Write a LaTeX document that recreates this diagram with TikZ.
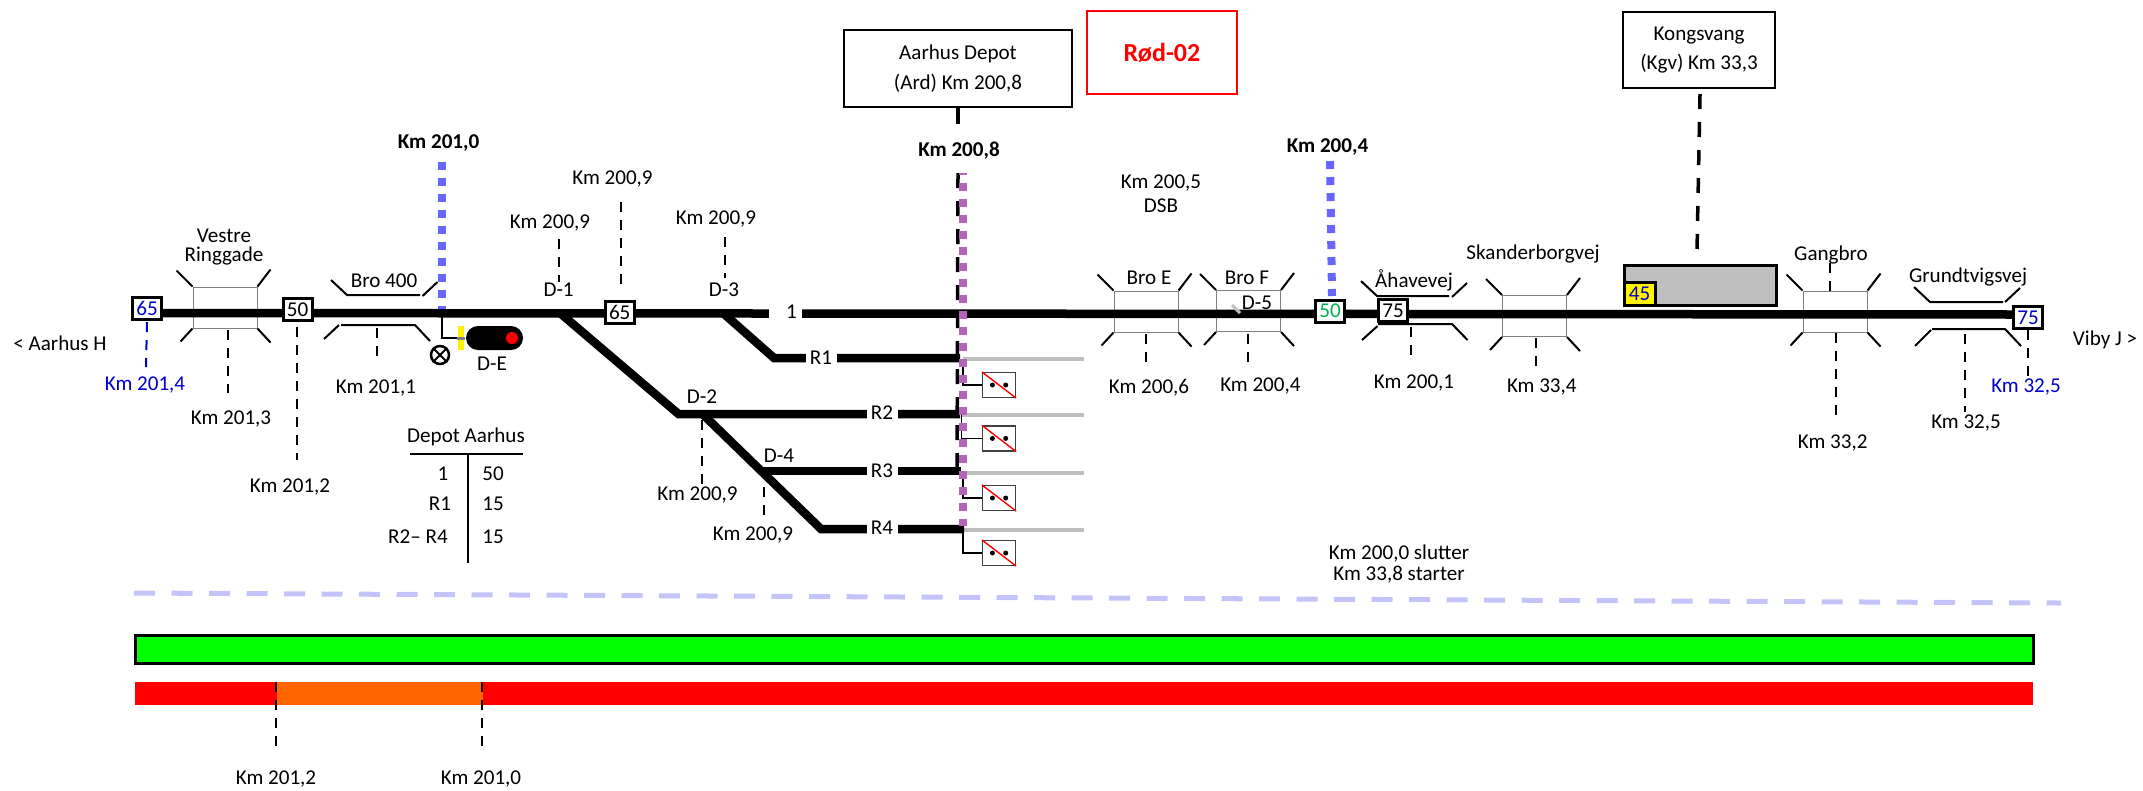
\documentclass[tikz,border=0pt]{standalone}
\usepackage{fontspec}
\setmainfont{Carlito}
\definecolor{dotblue}{HTML}{6666FF}
\definecolor{dotpurple}{HTML}{B565B9}
\definecolor{lavender}{HTML}{C4C4FA}
\definecolor{kmblue}{HTML}{0000CC}
\definecolor{kmgreen}{HTML}{00B050}
\definecolor{stubgray}{HTML}{BFBFBF}
\definecolor{slowzone}{HTML}{FF6600}
\tikzset{
  every node/.style={font=\fontsize{6}{7}\selectfont, inner sep=0pt},
  track/.style={line width=.085cm},
  wing/.style={line width=.02cm},
  bridgebox/.style={rectangle, draw=gray, line width=.01cm, minimum width=.64cm, minimum height=.41cm},
  leader/.style={line width=.02cm, dash pattern=on .1cm off .08cm},
  heavydash/.style={line width=.035cm, dash pattern=on .15cm off .13cm},
  dotline/.style={line width=.08cm, dash pattern=on .08cm off .08cm},
  speedbox/.style={rectangle, draw, fill=white, line width=.03cm, minimum width=.29cm, minimum height=.22cm},
  stationbox/.style={rectangle, draw, line width=.02cm, align=center, font=\fontsize{6}{8.5}\selectfont},
  nopass/.style={rectangle, draw=black!75, line width=.012cm, minimum width=.33cm, minimum height=.25cm},
  gaplabel/.style={fill=white, minimum width=.31cm, minimum height=.14cm},
  boldkm/.style={font=\fontsize{6}{7}\selectfont\bfseries},
}
\begin{document}
\begin{tikzpicture}
\useasboundingbox (0, 0) rectangle (21.43cm, -7.9cm);

% station boxes
\node at (9.58cm, -.685cm) [stationbox, minimum width=2.28cm, minimum height=.77cm] (ardBox) {Aarhus Depot\\(Ard) Km 200,8};
\node at (11.62cm, -.525cm) [rectangle, draw=red, line width=.025cm, minimum width=1.5cm, minimum height=.83cm, text=red, font=\fontsize{7.4}{9}\selectfont\bfseries] (rodBox) {Rød-02};
\node at (16.99cm, -.5cm) [stationbox, minimum width=1.52cm, minimum height=.76cm] (kgvBox) {Kongsvang\\(Kgv) Km 33,3};

\node at (17cm, -2.85cm) [rectangle, draw, fill=stubgray, line width=.03cm, minimum width=1.52cm, minimum height=.4cm] (platform) {};
\node at (16.395cm, -2.935cm) [rectangle, draw, fill=yellow, text=kmblue, line width=.03cm, minimum width=.31cm, minimum height=.23cm] (speedYellow) {45};

% bridges
\node at (2.25cm, -3.075cm) [bridgebox] (vestre) {};
\node at (11.46cm, -3.115cm) [bridgebox] (broE) {};
\node at (12.485cm, -3.11cm) [bridgebox] (broF) {};
\node at (15.345cm, -3.16cm) [bridgebox] (skander) {};
\node at (18.35cm, -3.115cm) [bridgebox] (gangbro) {};
\foreach \br in {vestre, broE, broF, skander, gangbro} {
  \draw[wing] (\br.north west) -- ++(-.16cm, .16cm);
  \draw[wing] (\br.north east) -- ++(.13cm, .17cm);
  \draw[wing] (\br.south west) -- ++(-.12cm, -.13cm);
  \draw[wing] (\br.south east) -- ++(.13cm, -.14cm);
}
\draw[wing] (3.31cm, -2.8cm) -- (3.47cm, -2.95cm) -- (4.2cm, -2.95cm);
\draw[wing] (4.225cm, -2.96cm) -- (4.375cm, -2.82cm);
\draw[wing] (3.24cm, -3.39cm) -- (3.39cm, -3.25cm);
\draw[wing] (3.41cm, -3.25cm) -- (4.15cm, -3.25cm) -- (4.3cm, -3.41cm);
\draw[wing] (13.61cm, -2.81cm) -- (13.77cm, -2.96cm) -- (14.49cm, -2.96cm);
\draw[wing] (14.52cm, -2.97cm) -- (14.67cm, -2.83cm);
\draw[wing] (13.62cm, -3.4cm) -- (13.775cm, -3.26cm);
\draw[wing] (13.78cm, -3.24cm) -- (14.52cm, -3.24cm) -- (14.675cm, -3.4cm);
\draw[wing] (19.14cm, -2.87cm) -- (19.3cm, -3.02cm) -- (20.03cm, -3.02cm);
\draw[wing] (20.05cm, -3.02cm) -- (20.2cm, -2.88cm);
\draw[wing] (19.15cm, -3.46cm) -- (19.31cm, -3.3cm);
\draw[wing] (19.32cm, -3.29cm) -- (20.05cm, -3.29cm) -- (20.21cm, -3.46cm);

% dotted km lines
\coordinate (blueTopW) at (4.42cm, -1.62cm);
\coordinate (blueEndW) at (4.42cm, -3.1cm);
\coordinate (blueTopE) at (13.3cm, -1.61cm);
\coordinate (blueEndE) at (13.32cm, -2.96cm);
\draw[dotline, dotblue] (blueTopW) -- (blueEndW);
\draw[dotline, dotblue] (blueTopE) -- (blueEndE);

% tracks
\coordinate (trackW) at (1.47cm, -3.13cm);
\coordinate (trackE) at (20.28cm, -3.145cm);
\coordinate (pointD1) at (5.6cm, -3.13cm);
\coordinate (pointD3) at (7.23cm, -3.13cm);
\coordinate (kneeR1) at (7.74cm, -3.58cm);
\coordinate (endR1) at (9.6cm, -3.58cm);
\coordinate (kneeR2) at (6.785cm, -4.14cm);
\coordinate (endR2) at (9.6cm, -4.14cm);
\coordinate (pointD2) at (7.025cm, -4.14cm);
\coordinate (kneeR4) at (8.21cm, -5.29cm);
\coordinate (endR4) at (9.64cm, -5.29cm);
\coordinate (pointD4) at (7.63cm, -4.71cm);
\coordinate (endR3) at (9.61cm, -4.71cm);
\foreach \n/\ys/\yb/\xs in {1/3.59/3.85/9.63, 2/4.15/4.384/9.617, 3/4.73/4.98/9.63, 4/5.3/5.53/9.63} {
  \coordinate (stub\n) at (\xs cm, -\ys cm);
  \coordinate (stubEnd\n) at (10.84cm, -\ys cm);
  \node at (9.99cm, -\yb cm) [nopass] (nopass\n) {};
  \draw[line width=.04cm, stubgray] (stub\n) -- (stubEnd\n);
  \draw[line width=.012cm] (stub\n) |- (nopass\n.west);
  \draw[line width=.014cm, red] (nopass\n.north west) -- (nopass\n.south east);
  \fill (nopass\n.center) ++(-.066cm, 0) circle (.025cm);
  \fill (nopass\n.center) ++(.067cm, 0) circle (.025cm);
}
\draw[track] (trackW) -- (trackE);
\draw[track] (pointD1) -- (kneeR2) -- (endR2);
\draw[track] (pointD2) -- (kneeR4) -- (endR4);
\draw[track] (pointD3) -- (kneeR1) -- (endR1);
\draw[track] (pointD4) -- (endR3);

\node at (7.85cm, -3.12cm) [gaplabel, minimum width=.33cm] (track1) {\hspace*{.13cm}1};
\node at (8.21cm, -3.58cm) [gaplabel] (trackR1) {R1};
\node at (8.82cm, -4.13cm) [gaplabel] (trackR2) {R2};
\node at (8.82cm, -4.71cm) [gaplabel] (trackR3) {R3};
\node at (8.82cm, -5.28cm) [gaplabel] (trackR4) {R4};

% speed boxes
\node at (1.47cm, -3.085cm) [speedbox, text=kmblue] (speedW) {65};
\node at (2.975cm, -3.095cm) [speedbox] (speed50) {50};
\node at (6.197cm, -3.125cm) [speedbox] (speed65) {65};
\node at (13.3cm, -3.11cm) [speedbox, text=kmgreen] (speedGreen) {50};
\node at (13.93cm, -3.107cm) [speedbox] (speed75) {75};
\node at (20.28cm, -3.175cm) [speedbox, text=kmblue] (speedE) {75};

% depot line and the line to Kongsvang
\coordinate (ardTop) at (9.58cm, -1.73cm);
\coordinate (ardEnd) at (9.57cm, -4.75cm);
\coordinate (ardStub) at (9.58cm, -1.24cm);
\coordinate (purpleTop) at (9.63cm, -1.73cm);
\coordinate (purpleEnd) at (9.63cm, -5.26cm);
\coordinate (kgvEnd) at (16.97cm, -2.5cm);
\draw[heavydash] (ardTop) -- (ardEnd);
\draw[line width=.035cm] (ardBox.south) -- (ardStub);
\draw[dotline, dotpurple, dash phase=.06cm] (purpleTop) -- (purpleEnd);
\draw[heavydash] (kgvBox.south) ++(.01cm, -.05cm) -- (kgvEnd);

% signal D-E
\coordinate (stemTop) at (4.42cm, -3.15cm);
\node at (4.61cm, -3.38cm) [rectangle, fill=yellow, minimum width=.06cm, minimum height=.24cm] (sigBar) {};
\node at (4.945cm, -3.38cm) [rectangle, fill=black, rounded corners=.12cm, minimum width=.57cm, minimum height=.24cm] (sigHead) {};
\node at (5.12cm, -3.38cm) [circle, fill=red, minimum size=.12cm] (sigLamp) {};
\node at (4.4cm, -3.55cm) [circle, draw, line width=.025cm, minimum size=.18cm] (crossDE) {};
\draw[line width=.02cm] (crossDE.north west) -- (crossDE.south east);
\draw[line width=.02cm] (crossDE.north east) -- (crossDE.south west);
\draw[line width=.02cm] (stemTop) |- (sigBar.west);
\draw[line width=.03cm, gray] (sigBar.west) -- (sigHead.west);
\node at (4.92cm, -3.64cm) (labelDE) {D-E};

% gray tick at D-5
\coordinate (tickA) at (12.32cm, -3.05cm);
\coordinate (tickB) at (12.4cm, -3.13cm);
\draw[line width=.03cm, stubgray] (tickA) -- (tickB);

% short km leaders
\foreach \lead/\x/\ya/\xb/\yb in {
  l2013/2.275/3.3/2.275/3.93, l2012/2.97/3.27/2.97/4.6, l2011/3.77/3.28/3.77/3.58,
  l2009a/5.586/2.39/5.586/2.82, l2009b/6.214/2.02/6.214/2.88, l2009c/7.246/2.37/7.246/2.78,
  l2009d/7.02/4.2/7.02/4.85, l2009e/7.64/4.87/7.64/5.23,
  l2006/11.457/3.34/11.457/3.7, l2004/12.48/3.34/12.48/3.7, l2001/14.107/3.27/14.107/3.58,
  l334/15.364/3.38/15.364/3.67, lGangN/18.3/2.63/18.3/2.907, l332/18.355/3.33/18.355/4.2,
  l325/19.65/3.34/19.65/4.117, l325b/20.276/3.3/20.276/3.78,
  lBarA/2.76/6.82/2.76/7.53, lBarB/4.82/6.82/4.82/7.47} {
  \coordinate (\lead a) at (\x cm, -\ya cm);
  \coordinate (\lead b) at (\xb cm, -\yb cm);
}

\foreach \lead in {l2013, l2012, l2011, l2009a, l2009b, l2009c, l2009d, l2009e, l2006, l2004, l2001, l334, lGangN, l332, l325, l325b} {
  \draw[leader] (\lead a) -- (\lead b);
}
\coordinate (l2014a) at (1.47cm, -3.22cm);
\coordinate (l2014b) at (1.46cm, -3.67cm);
\draw[leader, kmblue] (l2014a) -- (l2014b);

% labels
\node at (.6cm, -3.43cm) (labelWest) {< Aarhus H};
\node at (21.05cm, -3.4cm) (labelEast) {Viby J >};
\node at (2.24cm, -2.47cm) [align=center, font=\fontsize{6}{5.4}\selectfont] (labelVestre) {Vestre\\Ringgade};
\node at (3.84cm, -2.81cm) (labelBro400) {Bro 400};
\node at (11.49cm, -2.78cm) (labelBroE) {Bro E};
\node at (12.47cm, -2.78cm) (labelBroF) {Bro F};
\node at (14.14cm, -2.8cm) (labelAha) {Åhavevej};
\node at (15.33cm, -2.54cm) (labelSkander) {Skanderborgvej};
\node at (18.31cm, -2.55cm) (labelGang) {Gangbro};
\node at (19.68cm, -2.77cm) (labelGrund) {Grundtvigsvej};
\node at (5.586cm, -2.9cm) (labelD1) {D-1};
\node at (7.24cm, -2.9cm) (labelD3) {D-3};
\node at (7.02cm, -3.97cm) (labelD2) {D-2};
\node at (7.79cm, -4.56cm) (labelD4) {D-4};
\node at (12.57cm, -3.03cm) (labelD5) {D-5};

\node at (4.386cm, -1.43cm) [boldkm] (km2010b) {Km 201,0};
\node at (9.59cm, -1.51cm) [boldkm] (km2008b) {Km 200,8};
\node at (13.275cm, -1.47cm) [boldkm] (km2004b) {Km 200,4};

\node at (1.45cm, -3.85cm) [text=kmblue] (km2014) {Km 201,4};
\node at (2.31cm, -4.19cm) (km2013) {Km 201,3};
\node at (2.9cm, -4.87cm) (km2012) {Km 201,2};
\node at (3.76cm, -3.88cm) (km2011) {Km 201,1};
\node at (5.5cm, -2.23cm) (km2009a) {Km 200,9};
\node at (6.125cm, -1.79cm) (km2009b) {Km 200,9};
\node at (7.16cm, -2.19cm) (km2009c) {Km 200,9};
\node at (6.975cm, -4.95cm) (km2009d) {Km 200,9};
\node at (7.53cm, -5.35cm) (km2009e) {Km 200,9};
\node at (11.49cm, -3.88cm) (km2006) {Km 200,6};
\node at (12.604cm, -3.86cm) (km2004) {Km 200,4};
\node at (14.14cm, -3.83cm) (km2001) {Km 200,1};
\node at (15.418cm, -3.87cm) (km334) {Km 33,4};
\node at (18.327cm, -4.43cm) (km332) {Km 33,2};
\node at (19.66cm, -4.227cm) (km325) {Km 32,5};
\node at (20.26cm, -3.867cm) [text=kmblue] (km325b) {Km 32,5};
\node at (11.61cm, -1.83cm) (km2005) {Km 200,5};
\node at (11.61cm, -2.06cm) (labelDSB) {DSB};
\node at (13.99cm, -5.64cm) [align=center, font=\fontsize{6}{5.7}\selectfont] (labelSlut) {Km 200,0 slutter\\Km 33,8 starter};

% speed table
\node at (4.66cm, -4.37cm) (tableHead) {Depot Aarhus};
\coordinate (ruleW) at (4.1cm, -4.54cm);
\coordinate (ruleE) at (5.225cm, -4.54cm);
\coordinate (ruleTop) at (4.68cm, -4.54cm);
\coordinate (ruleEnd) at (4.68cm, -5.63cm);
\draw[line width=.02cm] (ruleW) -- (ruleE);
\draw[line width=.02cm] (ruleTop) -- (ruleEnd);
\node at (4.43cm, -4.74cm) (row1a) {1};
\node at (4.93cm, -4.74cm) (row1b) {50};
\node at (4.4cm, -5.04cm) (row2a) {R1};
\node at (4.93cm, -5.04cm) (row2b) {15};
\node at (4.18cm, -5.37cm) (row3a) {R2– R4};
\node at (4.93cm, -5.37cm) (row3b) {15};

% lower part
\coordinate (splitW) at (1.34cm, -5.93cm);
\coordinate (splitE) at (20.61cm, -6.03cm);
\draw[line width=.05cm, lavender, dash pattern=on .21cm off .165cm] (splitW) -- (splitE);

\node at (10.845cm, -6.495cm) [rectangle, draw, fill=green, line width=.03cm, minimum width=18.98cm, minimum height=.28cm] (greenBar) {};
\node at (10.84cm, -6.935cm) [rectangle, fill=red, minimum width=18.98cm, minimum height=.23cm] (redBar) {};
\node at (3.8cm, -6.935cm) [rectangle, fill=slowzone, minimum width=2.06cm, minimum height=.23cm] (orangeBar) {};
\draw[leader] (lBarAa) -- (lBarAb);
\draw[leader] (lBarBa) -- (lBarBb);
\node at (2.76cm, -7.79cm) (km2012c) {Km 201,2};
\node at (4.81cm, -7.79cm) (km2010c) {Km 201,0};
\end{tikzpicture}
\end{document}
